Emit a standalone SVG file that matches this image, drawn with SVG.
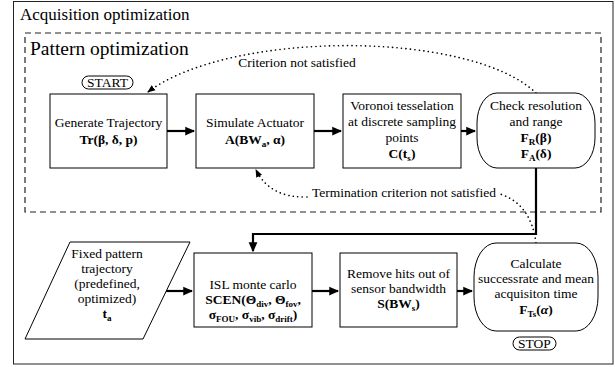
<svg xmlns="http://www.w3.org/2000/svg" width="615" height="367" viewBox="0 0 615 367" font-family="Liberation Serif, serif">
<style>
text{fill:#000}
.t{font-size:13.5px;text-anchor:middle}
.b{font-weight:bold}
.s{font-size:9px}
.box{fill:#fff;stroke:#000;stroke-width:1}
.frame{fill:none;stroke:#222;stroke-width:1}
.dash{fill:none;stroke:#222;stroke-width:1.2;stroke-dasharray:6 4}
.c{fill:none;stroke:#000;stroke-width:2.2}
.d{fill:none;stroke:#000;stroke-width:1.6;stroke-dasharray:0.1 4.4;stroke-linecap:round}
</style>
<defs>
<marker id="ah" markerWidth="10" markerHeight="10" refX="7" refY="4" orient="auto" markerUnits="userSpaceOnUse" viewBox="0 0 8 8">
<path d="M0,0.5 L8,4 L0,7.5 Z" fill="#000"/>
</marker>
<marker id="ahd" markerWidth="8" markerHeight="8" refX="7" refY="4" orient="auto" markerUnits="userSpaceOnUse" viewBox="0 0 8 8">
<path d="M0,0.8 L8,4 L0,7.2 Z" fill="#000"/>
</marker>
</defs>
<rect width="615" height="367" fill="#fff"/>
<g id="acquisition-frame">
<rect class="frame" x="13.5" y="1.5" width="599.5" height="362.5"/>
<text x="20" y="20" font-size="17" font-family="Liberation Serif, serif">Acquisition optimization</text>
</g>
<g id="pattern-frame">
<rect class="dash" x="25" y="33" width="576" height="179"/>
<text x="30" y="55" font-size="19.5" font-family="Liberation Serif, serif">Pattern optimization</text>
</g>
<g id="connectors" font-family="Liberation Serif, serif">
<path class="c" d="M167,131 H194" marker-end="url(#ah)"/>
<path class="c" d="M314,131 H341" marker-end="url(#ah)"/>
<path class="c" d="M461,131 H475" marker-end="url(#ah)"/>
<path class="c" d="M536,168 V234 H253 V251" marker-end="url(#ah)"/>
<path class="c" d="M166,291 H192" marker-end="url(#ah)"/>
<path class="c" d="M312,291 H338" marker-end="url(#ah)"/>
<path class="c" d="M457,291 H472" marker-end="url(#ah)"/>
<path class="d" d="M536,93 C470,30 230,30 148,92" marker-end="url(#ahd)"/>
<path class="d" d="M536,243 Q531,204 500,194"/>
<path class="d" d="M307,197 Q270,198 256,170" marker-end="url(#ahd)"/>
<text class="t" x="297" y="67">Criterion not satisfied</text>
<text class="t" x="404" y="197">Termination criterion not satisfied</text>
</g>
<g id="start" font-family="Liberation Serif, serif">
<rect class="box" x="82" y="76" width="51" height="13" rx="6.5"/>
<text class="t" x="107.5" y="87">START</text>
</g>
<g id="generate-trajectory" font-family="Liberation Serif, serif">
<rect class="box" x="50" y="94" width="117" height="74"/>
<text class="t" x="108.5" y="127">Generate Trajectory</text>
<text class="t b" x="108.5" y="144">Tr(β, δ, p)</text>
</g>
<g id="simulate-actuator" font-family="Liberation Serif, serif">
<rect class="box" x="196" y="94" width="118" height="74"/>
<text class="t" x="255" y="127">Simulate Actuator</text>
<text class="t b" x="255" y="144">A(BW<tspan class="s" dy="3">a</tspan><tspan dy="-3">, α)</tspan></text>
</g>
<g id="voronoi" font-family="Liberation Serif, serif">
<rect class="box" x="343" y="94" width="118" height="74"/>
<text class="t" x="402" y="110">Voronoi tesselation</text>
<text class="t" x="402" y="126">at discrete sampling</text>
<text class="t" x="402" y="142">points</text>
<text class="t b" x="402" y="158">C(t<tspan class="s" dy="3">s</tspan><tspan dy="-3">)</tspan></text>
</g>
<g id="check-resolution" font-family="Liberation Serif, serif">
<rect class="box" x="477" y="93" width="118" height="75" rx="20" ry="30"/>
<text class="t" x="536" y="110">Check resolution</text>
<text class="t" x="536" y="126">and range</text>
<text class="t b" x="536" y="142">F<tspan class="s" dy="3">R</tspan><tspan dy="-3">(β)</tspan></text>
<text class="t b" x="536" y="158">F<tspan class="s" dy="3">A</tspan><tspan dy="-3">(δ)</tspan></text>
</g>
<g id="fixed-pattern" font-family="Liberation Serif, serif">
<path class="box" d="M70,242 H190 L143,339 H25 Z"/>
<text class="t" x="107" y="258">Fixed pattern</text>
<text class="t" x="107" y="273">trajectory</text>
<text class="t" x="107" y="288">(predefined,</text>
<text class="t" x="107" y="303">optimized)</text>
<text class="t b" x="107" y="318">t<tspan class="s" dy="3">a</tspan></text>
</g>
<g id="isl-monte-carlo" font-family="Liberation Serif, serif">
<rect class="box" x="194" y="253" width="118" height="74"/>
<text class="t" x="253" y="289">ISL monte carlo</text>
<text class="t b" x="253" y="304">SCEN(Θ<tspan class="s" dy="3">div</tspan><tspan dy="-3">, Θ</tspan><tspan class="s" dy="3">fov</tspan><tspan dy="-3">,</tspan></text>
<text class="t b" x="253" y="319">σ<tspan class="s" dy="3">FOU</tspan><tspan dy="-3">, σ</tspan><tspan class="s" dy="3">vib</tspan><tspan dy="-3">, σ</tspan><tspan class="s" dy="3">drift</tspan><tspan dy="-3">)</tspan></text>
</g>
<g id="remove-hits" font-family="Liberation Serif, serif">
<rect class="box" x="340" y="253" width="117" height="74"/>
<text class="t" x="398.5" y="278">Remove hits out of</text>
<text class="t" x="398.5" y="293">sensor bandwidth</text>
<text class="t b" x="398.5" y="308">S(BW<tspan class="s" dy="3">s</tspan><tspan dy="-3">)</tspan></text>
</g>
<g id="calculate" font-family="Liberation Serif, serif">
<rect class="box" x="474" y="243" width="124" height="88" rx="22" ry="34"/>
<text class="t" x="536" y="268">Calculate</text>
<text class="t" x="536" y="283">successrate and mean</text>
<text class="t" x="536" y="298">acquisiton time</text>
<text class="t b" x="536" y="314">F<tspan class="s" dy="3">Ts</tspan><tspan dy="-3">(</tspan><tspan font-style="italic">α</tspan><tspan>)</tspan></text>
</g>
<g id="stop" font-family="Liberation Serif, serif">
<rect class="box" x="513" y="337" width="43" height="13" rx="6.5"/>
<text class="t" x="534.5" y="348">STOP</text>
</g>
</svg>
